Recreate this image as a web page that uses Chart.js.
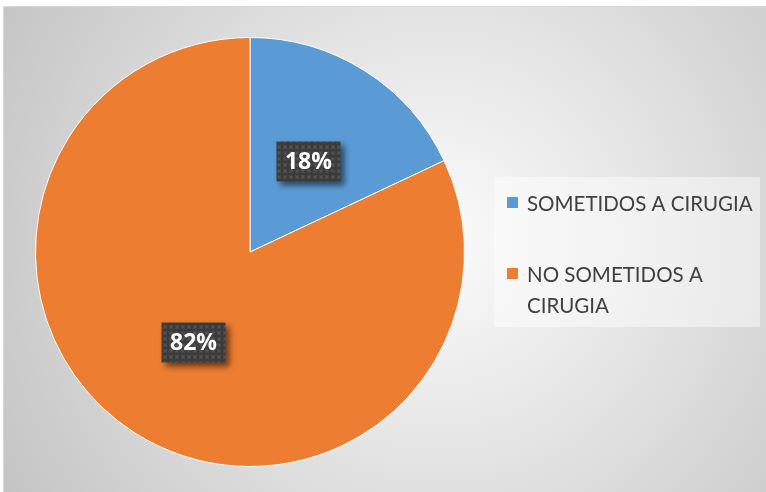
<!DOCTYPE html>
<html lang="es">
<head>
    <meta charset="UTF-8">
    <title>Pacientes sometidos a cirugía</title>
    <script src="https://cdn.jsdelivr.net/npm/chart.js"></script>
    <style>
        body { margin: 0; background: #ffffff; }
        #wrap { position: relative; width: 766px; height: 492px; }
    </style>
</head>
<body>
    <div id="wrap">
        <canvas id="pieChart" width="766" height="492"></canvas>
    </div>

    <script>
        // chart data
        const categories = ['SOMETIDOS A CIRUGIA', 'NO SOMETIDOS A CIRUGIA'];
        const legendLines = [['SOMETIDOS A CIRUGIA'], ['NO SOMETIDOS A', 'CIRUGIA']];
        const percentages = [18, 82];
        const sliceColors = ['#5B9BD5', '#ED7D31'];

        // small dotted pattern like the Excel label boxes
        function makeDotPattern(ctx) {
            const p = document.createElement('canvas');
            p.width = 6; p.height = 6;
            const pc = p.getContext('2d');
            pc.fillStyle = '#3b3b3b';
            pc.fillRect(0, 0, 6, 6);
            pc.fillStyle = '#474747';
            pc.fillRect(1, 1, 4, 4);
            pc.fillStyle = '#515151';
            pc.fillRect(2, 2, 2, 2);
            return ctx.createPattern(p, 'repeat');
        }

        const backgroundPlugin = {
            id: 'panelBackground',
            beforeDraw(chart) {
                const ctx = chart.ctx;
                ctx.save();
                const g = ctx.createRadialGradient(440, 240, 10, 440, 240, 520);
                g.addColorStop(0, '#fafafa');
                g.addColorStop(0.45, '#e2e2e2');
                g.addColorStop(1, '#c2c2c2');
                ctx.fillStyle = g;
                ctx.fillRect(4, 7, chart.width - 4, chart.height - 7);
                ctx.strokeStyle = '#d8d8d8';
                ctx.lineWidth = 1;
                ctx.beginPath();
                ctx.moveTo(3.5, 492); ctx.lineTo(3.5, 6.5); ctx.lineTo(766, 6.5);
                ctx.stroke();
                ctx.restore();
            }
        };

        const sliceLabelPlugin = {
            id: 'sliceLabels',
            afterDatasetsDraw(chart) {
                const ctx = chart.ctx;
                const meta = chart.getDatasetMeta(0);
                const pattern = makeDotPattern(ctx);
                ctx.save();
                ctx.font = 'bold 23px "Open Sans", sans-serif';
                ctx.textAlign = 'center';
                ctx.textBaseline = 'middle';
                meta.data.forEach((arc, i) => {
                    const pos = arc.tooltipPosition();
                    const text = percentages[i] + '%';
                    const w = 64, h = 40;
                    const x = pos.x - w / 2 + 1, y = pos.y - h / 2;
                    ctx.save();
                    ctx.shadowColor = 'rgba(0,0,0,0.55)';
                    ctx.shadowBlur = 6;
                    ctx.shadowOffsetX = 4;
                    ctx.shadowOffsetY = 4;
                    ctx.fillStyle = pattern;
                    ctx.fillRect(x, y, w, h);
                    ctx.restore();
                    ctx.fillStyle = '#ffffff';
                    ctx.fillText(text, pos.x + 1, pos.y + 1);
                });
                ctx.restore();
            }
        };

        const legendPlugin = {
            id: 'sideLegend',
            afterDraw(chart) {
                const ctx = chart.ctx;
                ctx.save();
                ctx.fillStyle = 'rgba(255,255,255,0.45)';
                ctx.fillRect(494, 177, 266, 150);
                ctx.font = '20.5px Lato, "Open Sans", sans-serif';
                ctx.textBaseline = 'alphabetic';
                const tops = [196, 267];
                categories.forEach((c, i) => {
                    ctx.fillStyle = sliceColors[i];
                    ctx.fillRect(507, tops[i] + 1, 11, 11);
                    ctx.fillStyle = '#404040';
                    legendLines[i].forEach((line, j) => {
                        ctx.fillText(line, 527, tops[i] + 15 + j * 31);
                    });
                });
                ctx.restore();
            }
        };

        new Chart(document.getElementById('pieChart'), {
            type: 'pie',
            data: {
                labels: categories,
                datasets: [{
                    data: percentages,
                    backgroundColor: sliceColors,
                    borderColor: '#ffffff',
                    borderWidth: 1
                }]
            },
            options: {
                responsive: false,
                animation: false,
                events: [],
                layout: { padding: { left: 35, top: 37, right: 301, bottom: 25 } },
                plugins: {
                    legend: { display: false },
                    tooltip: { enabled: false }
                }
            },
            plugins: [backgroundPlugin, sliceLabelPlugin, legendPlugin]
        });
    </script>
</body>
</html>
